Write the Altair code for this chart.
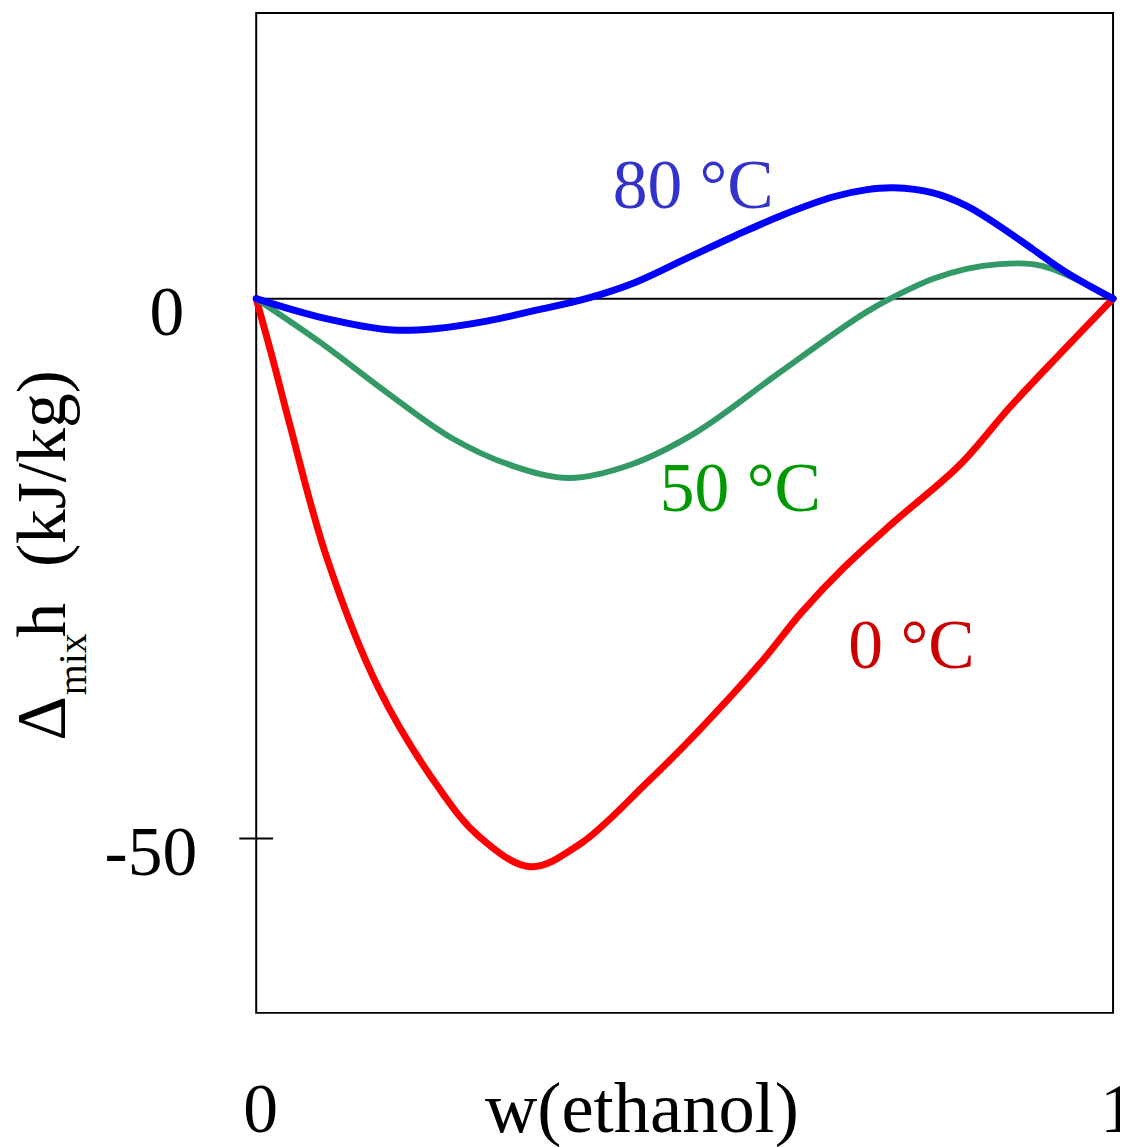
import altair as alt
import pandas as pd

# ---- data ----
x_0C = [0, 0.02, 0.039, 0.082, 0.143, 0.213, 0.26, 0.32, 0.378, 0.455, 0.513, 0.589,
        0.636, 0.686, 0.744, 0.821, 0.879, 0.937, 1]
y_0C = [0, -5.8, -11.6, -23.9, -36.1, -45.3, -49.8, -52.6, -50.5, -44.9, -40.3, -33.7,
        -29.1, -24.9, -20.7, -15.4, -10.1, -5.2, 0]

x_50C = [0, 0.074, 0.151, 0.228, 0.300, 0.366, 0.436, 0.513, 0.608, 0.686, 0.713, 0.740,
         0.790, 0.829, 0.867, 0.906, 0.929, 0.964, 1]
y_50C = [0, -4.0, -8.6, -12.9, -15.5, -16.6, -15.4, -12.4, -7.0, -2.6, -1.2, 0,
         1.84, 2.76, 3.2, 3.2, 2.76, 1.53, 0]

x_80C = [0, 0.074, 0.159, 0.211, 0.269, 0.327, 0.385, 0.443, 0.501, 0.559, 0.616, 0.674,
         0.713, 0.744, 0.790, 0.829, 0.867, 0.906, 0.945, 1]
y_80C = [0, -1.7, -2.9, -2.76, -2.08, -1.07, 0, 1.53, 3.68, 5.83, 7.8, 9.44,
         10.1, 10.27, 9.8, 8.6, 6.75, 4.6, 2.45, 0]

series_names = ["0 °C", "50 °C", "80 °C"]
line_colors = ["#ff0000", "#339966", "#0000ff"]
label_colors = ["#cc0000", "#009900", "#3333cc"]
line_widths = [7, 6, 7]

# label anchor (data coords, left/baseline)
label_x = [0.691, 0.471, 0.416]
label_y = [-34.2, -19.7, 8.4]

y_ticks = [0, -50]
y_tick_labels = "datum.value == 0 ? '0' : '-50'"
x_ticks = [0, 1]

FONT = "Liberation Serif"
FS = 70

xs = alt.Scale(domain=[0, 1], nice=False, zero=False, padding=0)
ys = alt.Scale(domain=[-66.14, 26.45], nice=False, zero=False)

x_axis = alt.Axis(values=x_ticks, labelExpr="datum.value == 0 ? '0' : '1'",
                  ticks=False, tickSize=0, domain=False, grid=False,
                  labelFont=FONT, labelFontSize=FS, labelColor="black",
                  labelBaseline="alphabetic", labelPadding=119, labelOffset=4,
                  labelFlush=False, labelOverlap=False,
                  title="w(ethanol)", titleFont=FONT, titleFontSize=73,
                  titleFontWeight="normal", titleColor="black",
                  titleX=388, titleY=119, titleAlign="center", titleBaseline="alphabetic")

y_axis = alt.Axis(values=y_ticks, labelExpr=y_tick_labels,
                  ticks=False, tickSize=0, domain=False, grid=False,
                  labelFont=FONT, labelFontSize=FS, labelColor="black",
                  labelAlign="right", labelBaseline="middle", labelOffset=15,
                  labelPadding={"condition": {"test": "datum.value == 0", "value": 73}, "value": 60},
                  labelFlush=False, labelOverlap=False, title="")

def curve(xv, yv, i):
    df = pd.DataFrame({"x": xv, "y": yv})
    return alt.Chart(df).mark_line(
        color=line_colors[i], strokeWidth=line_widths[i], interpolate="catmull-rom",
        strokeCap="round", strokeJoin="round"
    ).encode(x=alt.X("x:Q", scale=xs, axis=x_axis), y=alt.Y("y:Q", scale=ys, axis=y_axis))

zero = alt.Chart(pd.DataFrame({"z": [0]})).mark_rule(color="black", strokeWidth=2).encode(
    y=alt.Y("z:Q", scale=ys))

tick50 = alt.Chart(pd.DataFrame({"t": [-50]})).mark_rule(color="black", strokeWidth=2).encode(
    y=alt.Y("t:Q", scale=ys), x=alt.value(-17), x2=alt.value(17))

labels_df = pd.DataFrame({"x": label_x, "y": label_y, "t": series_names, "c": label_colors})
labels = alt.Chart(labels_df).mark_text(
    font=FONT, fontSize=FS, align="left", baseline="alphabetic"
).encode(x=alt.X("x:Q", scale=xs), y=alt.Y("y:Q", scale=ys), text="t:N",
         color=alt.Color("c:N", scale=None))

# y-axis title pieces: "Δ", subscript "mix", "h", "(kJ/kg)"
title_parts = ["Δ", "mix", "h", "(kJ/kg)"]
title_px = [57, 79, 57, 57]
title_py = [734, 688, 630, 559]
title_fs = [FS, 40, FS, FS]
ytitle = None
for i, t in enumerate(title_parts):
    m = alt.Chart(pd.DataFrame({"t": [t]})).mark_text(
        font=FONT, fontSize=title_fs[i], align="left", baseline="alphabetic", angle=270,
        color="black"
    ).encode(x=alt.value(title_px[i] - 250), y=alt.value(title_py[i] - 1), text="t:N")
    ytitle = m if ytitle is None else ytitle + m

chart = alt.layer(
    zero, tick50,
    curve(x_0C, y_0C, 0), curve(x_50C, y_50C, 1), curve(x_80C, y_80C, 2),
    labels, ytitle
).properties(
    width=863, height=1007,
    autosize=alt.AutoSizeParams(type="none"),
    padding={"left": 250, "top": 1, "right": 7, "bottom": 131},
    background="white"
).configure_view(stroke="black", strokeWidth=2)

chart.save("out.html", embed_options={"renderer": "svg", "actions": False})
